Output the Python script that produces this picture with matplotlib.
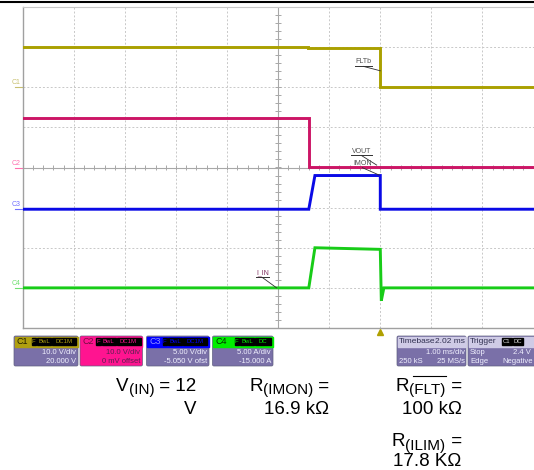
import numpy as np
import matplotlib
matplotlib.use('Agg')
import matplotlib.pyplot as plt
from matplotlib import transforms
from matplotlib.patches import Rectangle, FancyBboxPatch

plt.rcParams['font.family'] = ['Liberation Sans', 'DejaVu Sans']

# ---- scope data (time in ms relative to trigger) ----
t_c1 = [-7.0, -1.42, -1.42, 0.0, 0.0, 3.0]
v_c1 = [10.1, 10.1, 9.8, 9.8, 0.0, 0.0]          # FLTb, V

t_c2 = [-7.0, -1.40, -1.40, 3.0]
v_c2 = [12.4, 12.4, 0.2, 0.2]                      # VOUT, V

t_c3 = [-7.0, -1.40, -1.28, 0.0, 0.0, 3.0]
v_c3 = [0.0, 0.0, 4.2, 4.2, 0.0, 0.0]              # IMON, V

t_c4 = [-7.0, -1.40, -1.28, 0.0, 0.02, 0.07, 3.0]
v_c4 = [0.0, 0.0, 5.0, 4.8, -1.6, 0.0, 0.0]        # I_IN, A

ch_names = ['C1', 'C2', 'C3', 'C4']
ch_scale = [10.0, 10.0, 5.0, 5.0]                  # per div
ch_pos = [2.0, 0.0, -1.04, -3.0]                   # zero position (div)
ch_color = ['#aaa000', '#cc1566', '#0a0ae6', '#18cc18']
ch_mark = ['#c8c070', '#ff70b0', '#7070ff', '#70e070']

W, H = 534, 470
fig = plt.figure(figsize=(W / 100, H / 100), dpi=100)

# ---- graticule ----
ax = fig.add_axes([22.8 / W, 1 - 328 / H, 510.7 / W, 321 / H])
ax.set_xlim(-7, 3)
ax.set_ylim(-4, 4)
ax.set_xticks([])
ax.set_yticks([])
for s in ['left', 'bottom']:
    ax.spines[s].set_color('#a0a0a0')
    ax.spines[s].set_linewidth(1.0)
ax.spines['top'].set_color('#c8c8c8')
ax.spines['top'].set_linewidth(0.8)
ax.spines['right'].set_visible(False)

for t in range(-6, 3):
    if t != -2:
        ax.axvline(t, color='#c8c8c8', lw=0.7, ls=(0, (2, 2)), zorder=1)
for d in range(-3, 4):
    if d != 0:
        ax.axhline(d, color='#c8c8c8', lw=0.7, ls=(0, (2, 2)), zorder=1)
ax.axvline(-2, color='#a8a8a8', lw=0.8, zorder=1)
ax.axhline(0, color='#a8a8a8', lw=0.8, zorder=1)
yt = np.arange(-4, 4.01, 0.2)
ax.hlines(yt, -2.06, -1.94, color='#a8a8a8', lw=0.7, zorder=1)
xt = np.arange(-7, 3.01, 0.2)
ax.vlines(xt, -0.05, 0.05, color='#a8a8a8', lw=0.7, zorder=1)

# ---- traces ----
traces = [(t_c1, v_c1), (t_c2, v_c2), (t_c3, v_c3), (t_c4, v_c4)]
for i, (tt, vv) in enumerate(traces):
    y = np.array(vv) / ch_scale[i] + ch_pos[i]
    ax.plot(tt, y, color=ch_color[i], lw=2.1, solid_joinstyle='miter', zorder=3)

# channel markers on the left
bl = transforms.blended_transform_factory(ax.transAxes, ax.transData)
for i in range(4):
    ax.plot([-0.016, 0], [ch_pos[i], ch_pos[i]], color=ch_mark[i], lw=0.8,
            transform=bl, clip_on=False)
    ax.text(-0.014, ch_pos[i] + 0.02, ch_names[i], color=ch_mark[i], fontsize=5,
            ha='center', va='bottom', transform=bl, clip_on=False)

# trigger marker
ax.plot([0], [-4.1], marker='^', color='#b0a000', ms=4, clip_on=False, zorder=4)


def label(txt, tx, ty, w, px, py, color='#505050'):
    ax.text(tx, ty, txt, fontsize=5, color=color, ha='center', va='center', zorder=5)
    uy = ty - 0.11
    ax.plot([tx - w / 2, tx + w / 2], [uy, uy], color='#303030', lw=0.7, zorder=5)
    ax.plot([tx, px], [uy, py], color='#303030', lw=0.6, zorder=5)


label('FLTb', -0.33, 2.63, 0.34, 0.0, 2.41)
label('VOUT', -0.37, 0.41, 0.40, -0.07, 0.06)
label('IMON', -0.35, 0.105, 0.0, -0.02, -0.19)
label('I_IN', -2.31, -2.63, 0.26, -2.03, -3.0, color='#803060')

# ---- status boxes + notes (pixel coordinates) ----
deco = fig.add_axes([0, 0, 1, 1], zorder=-1)
deco.set_xlim(0, W)
deco.set_ylim(H, 0)
deco.axis('off')
deco.plot([0, W], [1.5, 1.5], color='black', lw=1.5)

body = '#7a70a8'
rowc = '#f0f0ff'


def badges(x_right, y0, items, tcol):
    x = x_right
    for txt, w in reversed(items):
        deco.add_patch(Rectangle((x - w, y0 + 1.5), w, 7.5, color='black'))
        deco.text(x - w / 2, y0 + 5.5, txt, fontsize=4.3, color=tcol,
                  ha='center', va='center')
        x -= w + 1


def chan_box(x0, x1, name, head, ntxt, btxt, rows, full=None, rtxt=rowc):
    deco.add_patch(FancyBboxPatch((x0, 336), x1 - x0, 30,
                                  boxstyle='round,pad=0,rounding_size=1.5',
                                  fc=full or body, ec='#606080', lw=0.5))
    deco.add_patch(Rectangle((x0 + 0.5, 336.5), x1 - x0 - 1, 10, color=head))
    deco.text(x0 + 2.5, 341.5, name, fontsize=6.5, color=ntxt, va='center')
    items = [('F', 4.5), ('BwL', 14)] + [(b, 8 + 4 * len(b)) for b in btxt]
    badges(x1 - 2, 336, items, head)
    deco.text(x1 - 2, 352.7, rows[0], fontsize=5.5, color=rtxt, ha='right', va='center')
    deco.text(x1 - 2, 361.7, rows[1], fontsize=5.5, color=rtxt, ha='right', va='center')


chan_box(14, 78, 'C1', '#b0a010', '#202000', ['DC1M'], ['10.0 V/div', '20.000 V'])
chan_box(80, 142.5, 'C2', '#ff1490', '#701040', ['DC1M'], ['10.0 V/div', '0 mV offset'],
         full='#ff1490', rtxt='#5a2050')
chan_box(146.5, 209, 'C3', '#0000ff', '#9090ff', ['DC1M'], ['5.00 V/div', '-5.050 V ofst'])
chan_box(212.5, 273, 'C4', '#00ee00', '#003000', ['DC'], ['5.00 A/div', '-15.000 A'])

for x0, x1 in [(397, 466), (468, 545)]:
    deco.add_patch(FancyBboxPatch((x0, 336), x1 - x0, 30,
                                  boxstyle='round,pad=0,rounding_size=1.5',
                                  fc=body, ec='#606080', lw=0.5))
    deco.add_patch(Rectangle((x0 + 0.5, 336.5), x1 - x0 - 1, 10, color='#cfcbe6'))
deco.text(399, 341.5, 'Timebase', fontsize=6, color='#303050', va='center')
deco.text(465, 341.5, '2.02 ms', fontsize=6, color='#303050', va='center', ha='right')
deco.text(465, 352.7, '1.00 ms/div', fontsize=5.5, color=rowc, va='center', ha='right')
deco.text(399, 361.7, '250 kS', fontsize=5.5, color=rowc, va='center')
deco.text(465, 361.7, '25 MS/s', fontsize=5.5, color=rowc, va='center', ha='right')
deco.text(470, 341.5, 'Trigger', fontsize=6, color='#303050', va='center')
badges(522.5, 336, [('C1', 10), ('DC', 10)], '#e0e0e0')
deco.text(470, 352.7, 'Stop', fontsize=5.5, color=rowc, va='center')
deco.text(531, 352.7, '2.4 V', fontsize=5.5, color=rowc, va='center', ha='right')
deco.text(470, 361.7, 'Edge', fontsize=5.5, color=rowc, va='center')
deco.text(533, 361.7, 'Negative', fontsize=5.5, color=rowc, va='center', ha='right')

# ---- test conditions ----
fs, fs_sub = 13.5, 11
rend = fig.canvas.get_renderer()


def cond(x_right, y, main, sub, tail, bar=False):
    t3 = deco.text(x_right, y, tail, fontsize=fs, ha='right', va='baseline')
    xs = x_right - t3.get_window_extent(rend).width
    t2 = deco.text(xs, y + 3.5, sub, fontsize=fs_sub, ha='right', va='baseline')
    w2 = t2.get_window_extent(rend).width
    deco.text(xs - w2, y, main, fontsize=fs, ha='right', va='baseline')
    if bar:
        deco.plot([xs - w2 + 3.5, xs], [y - 14.5, y - 14.5], color='black', lw=0.8)


cond(196.7, 390.7, 'V', '(IN)', ' = 12')
deco.text(196.7, 414.3, 'V', fontsize=fs, ha='right', va='baseline')
cond(329.3, 390.7, 'R', '(IMON)', ' =')
deco.text(329.3, 414.3, '16.9 kΩ', fontsize=fs, ha='right', va='baseline')
cond(461.7, 390.7, 'R', '(FLT)', ' =', bar=True)
deco.text(461.7, 414.3, '100 kΩ', fontsize=fs, ha='right', va='baseline')
cond(461.7, 446.5, 'R', '(ILIM)', ' =')
deco.text(461.7, 465.5, '17.8 KΩ', fontsize=fs, ha='right', va='baseline')

fig.savefig('out.png', dpi=100)
